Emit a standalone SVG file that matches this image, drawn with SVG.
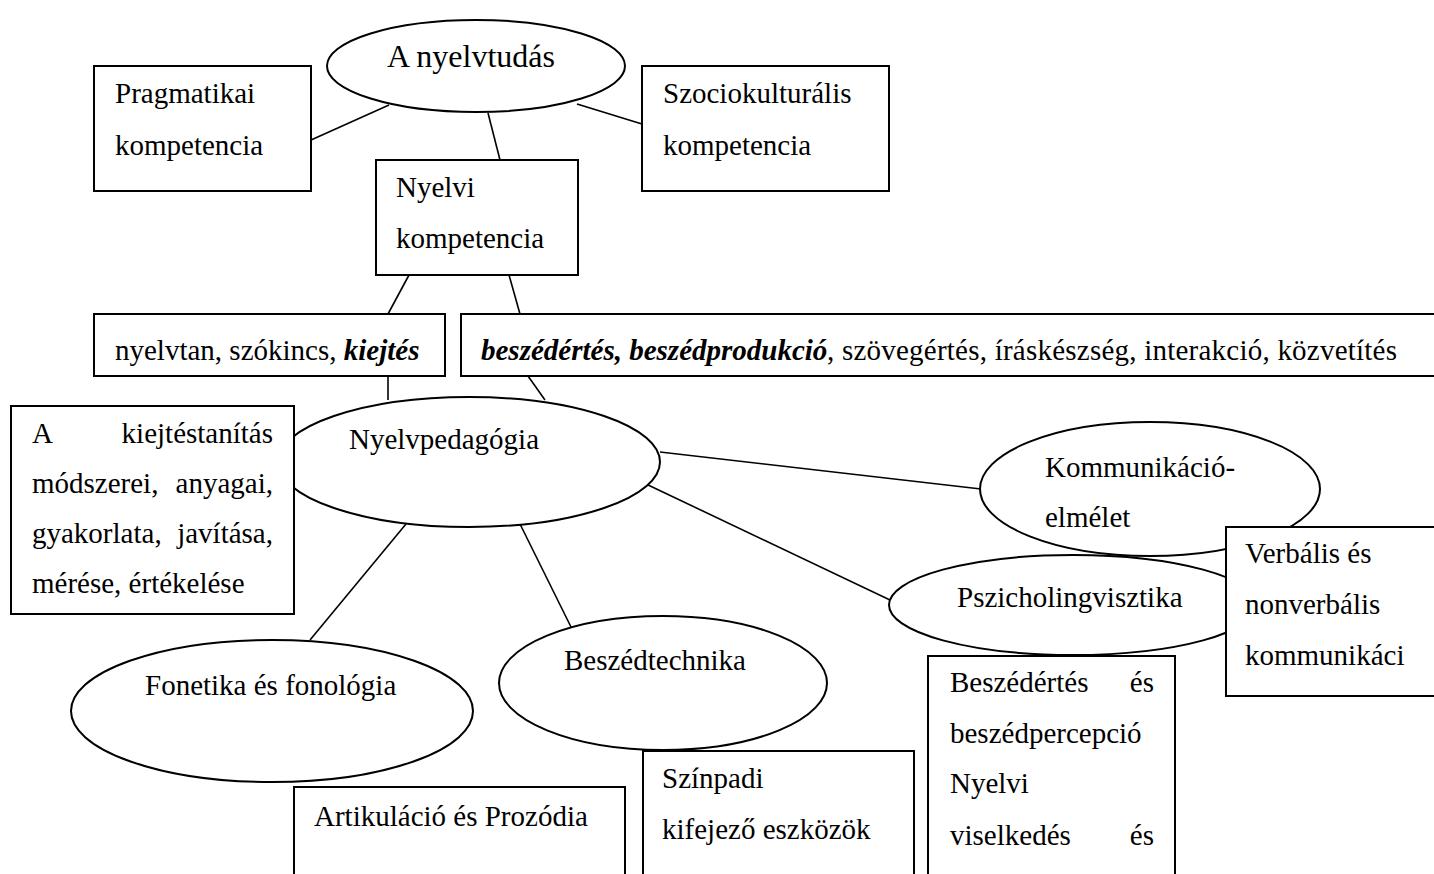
<svg xmlns="http://www.w3.org/2000/svg" width="1434" height="874" viewBox="0 0 1434 874">
<style>
.t{font-family:"Liberation Serif","Times New Roman",serif;font-size:29px;fill:#000}
.big{font-size:32px}
.bi{font-weight:bold;font-style:italic}
.n{fill:#fff;stroke:#000;stroke-width:2}
.c{stroke:#000;stroke-width:1.6;fill:none}
</style>
<rect width="1434" height="874" fill="#fff"/>
<g id="connectors">
<line class="c" x1="311" y1="140" x2="389" y2="105"/>
<line class="c" x1="577" y1="104" x2="642" y2="124"/>
<line class="c" x1="488" y1="113" x2="500" y2="160"/>
<line class="c" x1="409" y1="275" x2="388" y2="314"/>
<line class="c" x1="509" y1="275" x2="520" y2="314"/>
<line class="c" x1="388" y1="376" x2="388" y2="400"/>
<line class="c" x1="528" y1="376" x2="545" y2="400"/>
<line class="c" x1="660" y1="452" x2="981" y2="489"/>
<line class="c" x1="646" y1="484" x2="890" y2="600"/>
<line class="c" x1="406" y1="524" x2="310" y2="640"/>
<line class="c" x1="520" y1="524" x2="571" y2="627"/>
</g>
<g id="nyelvtudas">
<ellipse class="n" cx="476" cy="66" rx="149" ry="46"/>
<text class="t big" x="387" y="67">A nyelvtudás</text>
</g>
<g id="pragmatikai">
<rect class="n" x="94" y="66" width="217" height="125"/>
<text class="t" x="115" y="103">Pragmatikai</text>
<text class="t" x="115" y="155">kompetencia</text>
</g>
<g id="szociokulturalis">
<rect class="n" x="642" y="66" width="247" height="125"/>
<text class="t" x="663" y="103">Szociokulturális</text>
<text class="t" x="663" y="155">kompetencia</text>
</g>
<g id="nyelvi-kompetencia">
<rect class="n" x="376" y="160" width="202" height="115"/>
<text class="t" x="396" y="197">Nyelvi</text>
<text class="t" x="396" y="248">kompetencia</text>
</g>
<g id="nyelvtan">
<rect class="n" x="94" y="314" width="351" height="62"/>
<text class="t" x="115" y="360">nyelvtan, szókincs, <tspan class="bi">kiejtés</tspan></text>
</g>
<g id="keszsegek">
<rect class="n" x="461" y="314" width="990" height="62"/>
<text class="t" x="481" y="360"><tspan class="bi">beszédértés, beszédprodukció</tspan><tspan x="827" textLength="570">, szövegértés, íráskészség, interakció, közvetítés</tspan></text>
</g>
<g id="nyelvpedagogia">
<ellipse class="n" cx="469" cy="462" rx="191" ry="65"/>
<text class="t" x="349" y="449">Nyelvpedagógia</text>
</g>
<g id="kiejtestanitas">
<rect class="n" x="11" y="406" width="283" height="208"/>
<text class="t" x="32" y="443">A</text>
<text class="t" x="273" y="443" text-anchor="end">kiejtéstanítás</text>
<text class="t" x="32" y="493">módszerei,</text>
<text class="t" x="273" y="493" text-anchor="end">anyagai,</text>
<text class="t" x="32" y="543">gyakorlata,</text>
<text class="t" x="273" y="543" text-anchor="end">javítása,</text>
<text class="t" x="32" y="593">mérése, értékelése</text>
</g>
<g id="kommunikacio">
<ellipse class="n" cx="1150" cy="489" rx="170" ry="67"/>
<text class="t" x="1045" y="477">Kommunikáció-</text>
<text class="t" x="1045" y="527">elmélet</text>
</g>
<g id="pszicholingvisztika">
<ellipse class="n" cx="1073" cy="605" rx="184" ry="50"/>
<text class="t" x="957" y="607">Pszicholingvisztika</text>
</g>
<g id="verbalis">
<rect class="n" x="1226" y="527" width="230" height="169"/>
<text class="t" x="1245" y="563">Verbális és</text>
<text class="t" x="1245" y="614">nonverbális</text>
<text class="t" x="1245" y="665">kommunikáci</text>
</g>
<g id="fonetika">
<ellipse class="n" cx="272" cy="711" rx="201" ry="71"/>
<text class="t" x="145" y="695">Fonetika és fonológia</text>
</g>
<g id="beszedtechnika">
<ellipse class="n" cx="663" cy="683" rx="164" ry="67"/>
<text class="t" x="564" y="670">Beszédtechnika</text>
</g>
<g id="szinpadi">
<rect class="n" x="643" y="751" width="271" height="140"/>
<text class="t" x="662" y="788">Színpadi</text>
<text class="t" x="662" y="839">kifejező eszközök</text>
</g>
<g id="artikulacio">
<rect class="n" x="294" y="787" width="331" height="110"/>
<text class="t" x="314" y="826">Artikuláció és Prozódia</text>
</g>
<g id="beszedertes">
<rect class="n" x="928" y="656" width="247" height="240"/>
<text class="t" x="950" y="692">Beszédértés</text>
<text class="t" x="1154" y="692" text-anchor="end">és</text>
<text class="t" x="950" y="743">beszédpercepció</text>
<text class="t" x="950" y="793">Nyelvi</text>
<text class="t" x="950" y="845">viselkedés</text>
<text class="t" x="1154" y="845" text-anchor="end">és</text>
</g>
</svg>
